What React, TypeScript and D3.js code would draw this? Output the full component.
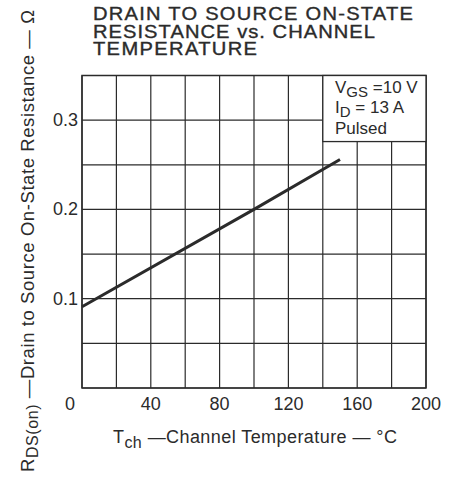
import React from "react";
import * as d3 from "d3";

const xTicks = [40, 80, 120, 160, 200];
const yTicks = [0.1, 0.2, 0.3];
const xGrid = d3.range(0, 201, 20);
const yGrid = [0, 0.05, 0.1, 0.15, 0.2, 0.25, 0.3, 0.35];
const temps = [0, 100, 150];
const rdsOn = [0.091, 0.2, 0.256];
const titleLines = ["DRAIN TO SOURCE ON-STATE", "RESISTANCE vs. CHANNEL", "TEMPERATURE"];
const titleWidths = [320, 282, 164];

const W = 459, H = 480;
const L = 82, R = 426, T = 75.5, B = 388;
const ink = "#2b2b2b";
const font = "'Liberation Sans', Arial, Helvetica, sans-serif";
const titleScale = 1.15;

export default function App() {
  const x = d3.scaleLinear().domain([0, 200]).range([L, R]);
  const y = d3.scaleLinear().domain([0, 0.35]).range([B, T]);
  const line = d3.line<number>().x((_, i) => x(temps[i])).y((d) => y(d));
  return (
    <svg width={W} height={H} style={{ position: "absolute", left: 0, top: 0, background: "#fff" }} fontFamily={font}>
      <rect width={W} height={H} fill="#fff" />
      {titleLines.map((t, i) => (
        <text key={i} transform={`translate(93,${20 + i * 17.5}) scale(${titleScale},1)`} fontSize={17.5} fill={ink}
          textLength={titleWidths[i] / titleScale} lengthAdjust="spacing" stroke={ink} strokeWidth={0.35}>
          {t}
        </text>
      ))}
      {xGrid.map((v) => (
        <line key={"gx" + v} x1={x(v)} x2={x(v)} y1={T} y2={B} stroke={ink} strokeWidth={1.2} />
      ))}
      {yGrid.map((v) => (
        <line key={"gy" + v} x1={L} x2={R} y1={y(v)} y2={y(v)} stroke={ink} strokeWidth={1.2} />
      ))}
      <rect x={L} y={T} width={R - L} height={B - T} fill="none" stroke={ink} strokeWidth={1.5} />
      <path d={line(rdsOn) || ""} fill="none" stroke={ink} strokeWidth={3} />
      <rect x={x(140)} y={T} width={R - x(140)} height={y(0.276) - T} fill="#fff" stroke={ink} strokeWidth={1.3} />
      <text x={335} y={93} fontSize={17} fill={ink}>
        V<tspan dy={4} fontSize={15}>GS</tspan><tspan dy={-4}> =10 V</tspan>
      </text>
      <text x={335} y={113} fontSize={17} fill={ink}>
        I<tspan dy={4} fontSize={15}>D</tspan><tspan dy={-4}> = 13 A</tspan>
      </text>
      <text x={335} y={134} fontSize={17} fill={ink}>Pulsed</text>
      {yTicks.map((v) => (
        <text key={"ty" + v} x={78} y={y(v) + 6} fontSize={18} fill={ink} textAnchor="end">
          {v.toFixed(1)}
        </text>
      ))}
      <text x={70} y={410} fontSize={18} fill={ink} textAnchor="middle">0</text>
      {xTicks.map((v) => (
        <text key={"tx" + v} x={x(v)} y={410} fontSize={18} fill={ink} textAnchor="middle">
          {v}
        </text>
      ))}
      <text x={113} y={443} fontSize={18} fill={ink} textLength={284} lengthAdjust="spacing">
        T<tspan dy={5} fontSize={16}>ch</tspan><tspan dy={-5}> —Channel  Temperature — °C</tspan>
      </text>
      <text transform="translate(34,472) rotate(-90)" fontSize={18.5} fill={ink} textLength={462} lengthAdjust="spacing">
        R<tspan dy={4} fontSize={16}>DS(on)</tspan><tspan dy={-4}> —Drain to Source On-State Resistance — Ω</tspan>
      </text>
    </svg>
  );
}
